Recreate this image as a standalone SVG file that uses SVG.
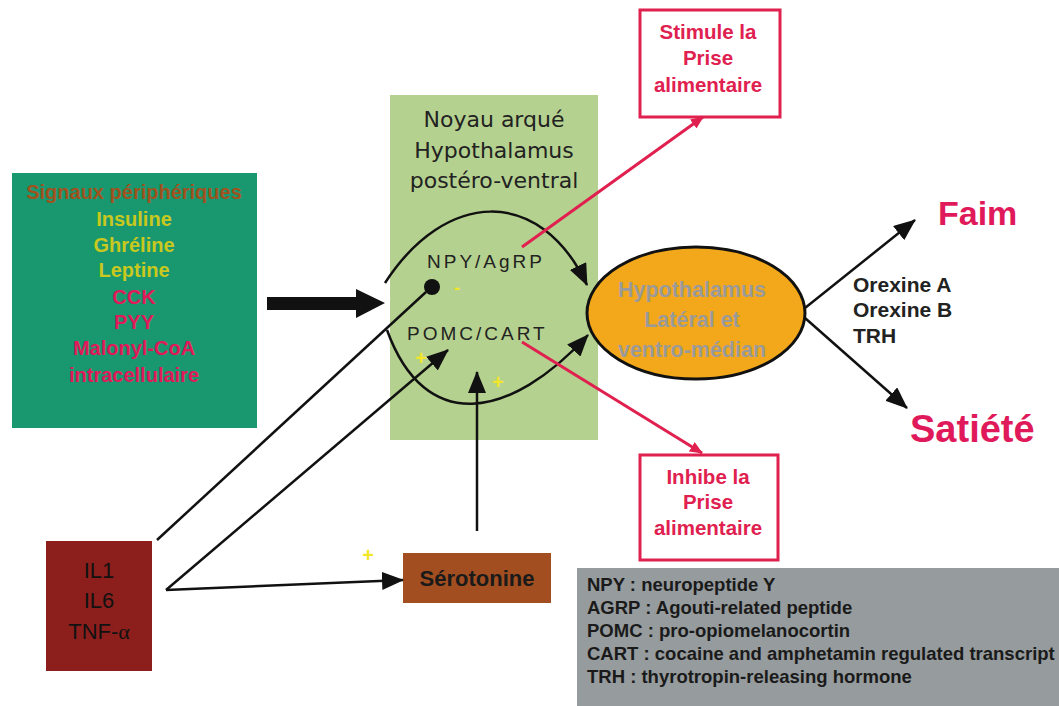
<svg xmlns="http://www.w3.org/2000/svg" width="1059" height="706" viewBox="0 0 1059 706">
<defs>
<style>
.cb{font-family:"Liberation Sans",Arial,sans-serif;font-weight:bold}
.cr{font-family:"DejaVu Sans","Liberation Sans",sans-serif}
.mid{text-anchor:middle}
.conn{fill:none;stroke:#111;stroke-width:2.5}
.red{fill:none;stroke:#E0204F;stroke-width:3}
.yel{fill:#F2E62A;font-family:"Liberation Sans",sans-serif;font-weight:bold}
</style>
<marker id="ah" markerUnits="userSpaceOnUse" markerWidth="22" markerHeight="18" viewBox="0 0 22 18" refX="21" refY="9" orient="auto"><path d="M0,0 L22,9 L0,18 z" fill="#111"/></marker>
<marker id="rh" markerUnits="userSpaceOnUse" markerWidth="13" markerHeight="11" viewBox="0 0 13 11" refX="12" refY="5.5" orient="auto"><path d="M0,0 L13,5.5 L0,11 z" fill="#E0204F"/></marker>
</defs>
<rect width="1059" height="706" fill="#fff"/>

<g id="signaux">
<rect x="12" y="173" width="245" height="255" fill="#19986F"/>
<g class="cb mid" font-size="20">
<text x="134" y="199" fill="#A0521E">Signaux périphériques</text>
<text x="134" y="226" fill="#C8C81E">Insuline</text>
<text x="134" y="252" fill="#C8C81E">Ghréline</text>
<text x="134" y="277" fill="#C8C81E">Leptine</text>
<text x="134" y="304" fill="#E0195A">CCK</text>
<text x="134" y="329" fill="#E0195A">PYY</text>
<text x="134" y="355" fill="#E0195A">Malonyl-CoA</text>
<text x="134" y="382" fill="#E0195A">intracellulaire</text>
</g>
</g>

<g id="noyau">
<rect x="390" y="95" width="208" height="345" fill="#B5D18F"/>
<g class="cr mid" font-size="22" fill="#222">
<text x="494" y="127">Noyau arqué</text>
<text x="494" y="158">Hypothalamus</text>
<text x="494" y="188">postéro-ventral</text>
</g>
<text x="427" y="268" font-family="Liberation Sans,Arial,sans-serif" font-size="19" letter-spacing="3" fill="#222">NPY/AgRP</text>
<text x="407" y="340" font-family="Liberation Sans,Arial,sans-serif" font-size="19" letter-spacing="3" fill="#222">POMC/CART</text>
<text class="yel" x="457" y="294" font-size="18" text-anchor="middle">-</text>
<text class="yel" x="421" y="365" font-size="20" text-anchor="middle">+</text>
<text class="yel" x="498" y="389" font-size="20" text-anchor="middle">+</text>
</g>

<g id="lateral">
<ellipse cx="696" cy="313" rx="109" ry="66" fill="#F2A81A" stroke="#111" stroke-width="3"/>
<g class="cb mid" font-size="21.5" fill="#9A9A9A">
<text x="692" y="297">Hypothalamus</text>
<text x="692" y="327">Latéral et</text>
<text x="692" y="357">ventro-médian</text>
</g>
</g>

<g id="stimule">
<rect x="640" y="10" width="140" height="107" fill="#fff" stroke="#E0204F" stroke-width="3"/>
<g class="cb mid" font-size="20.5" fill="#E0204F">
<text x="708" y="39">Stimule la</text>
<text x="708" y="65">Prise</text>
<text x="708" y="92">alimentaire</text>
</g>
</g>

<g id="inhibe">
<rect x="640" y="455" width="138" height="105" fill="#fff" stroke="#E0204F" stroke-width="3"/>
<g class="cb mid" font-size="20.5" fill="#E0204F">
<text x="708" y="484">Inhibe la</text>
<text x="708" y="509">Prise</text>
<text x="708" y="535">alimentaire</text>
</g>
</g>

<g id="faim">
<text class="cb" x="938" y="225" font-size="34" fill="#E0195A">Faim</text>
</g>
<g id="satiete">
<text class="cb" x="910" y="442" font-size="38" fill="#E0195A">Satiété</text>
</g>
<g id="orexines" class="cb" font-size="21" fill="#222">
<text x="853" y="292">Orexine A</text>
<text x="853" y="317">Orexine B</text>
<text x="853" y="343">TRH</text>
</g>

<g id="cytokines">
<rect x="46" y="541" width="106" height="130" fill="#8C1F1C"/>
<g class="mid" font-family="Liberation Sans,Arial,sans-serif" font-size="22" fill="#111">
<text x="99" y="578">IL1</text>
<text x="99" y="608">IL6</text>
<text x="99" y="639">TNF-<tspan font-family="Liberation Serif,serif">α</tspan></text>
</g>
</g>

<g id="serotonine">
<rect x="403" y="553" width="148" height="50" fill="#A24E20"/>
<text class="cb mid" x="477" y="586" font-size="22" fill="#1a1a1a">Sérotonine</text>
<text class="yel" x="368" y="562" font-size="20" text-anchor="middle">+</text>
</g>

<g id="legende">
<rect x="577" y="568" width="482" height="138" fill="#969B9D"/>
<g class="cb" font-size="18.5" fill="#1a1a1a">
<text x="587" y="591">NPY : neuropeptide Y</text>
<text x="587" y="614">AGRP : Agouti-related peptide</text>
<text x="587" y="637">POMC : pro-opiomelanocortin</text>
<text x="587" y="660">CART : cocaine and amphetamin regulated transcript</text>
<text x="587" y="683">TRH : thyrotropin-releasing hormone</text>
</g>
</g>

<g id="connectors">
<path d="M267,297 H356 V289 L385,303 L356,318 V310 H267 z" fill="#111"/>
<path class="conn" d="M385,283 C445,190 540,185 587,285" marker-end="url(#ah)"/>
<path class="conn" d="M387,330 C425,435 510,420 588,335" marker-end="url(#ah)"/>
<line class="conn" x1="157" y1="540" x2="426" y2="292"/>
<circle cx="432" cy="287" r="8" fill="#111"/>
<line class="conn" x1="166" y1="590" x2="448" y2="350" marker-end="url(#ah)"/>
<line class="conn" x1="166" y1="590" x2="403" y2="580" marker-end="url(#ah)"/>
<line class="conn" x1="477" y1="531" x2="477" y2="372" marker-end="url(#ah)"/>
<line class="conn" x1="805" y1="308" x2="915" y2="220" marker-end="url(#ah)"/>
<line class="conn" x1="805" y1="318" x2="907" y2="408" marker-end="url(#ah)"/>
<line class="red" x1="522" y1="247" x2="703" y2="117" marker-end="url(#rh)"/>
<line class="red" x1="522" y1="342" x2="702" y2="453" marker-end="url(#rh)"/>
</g>
</svg>
